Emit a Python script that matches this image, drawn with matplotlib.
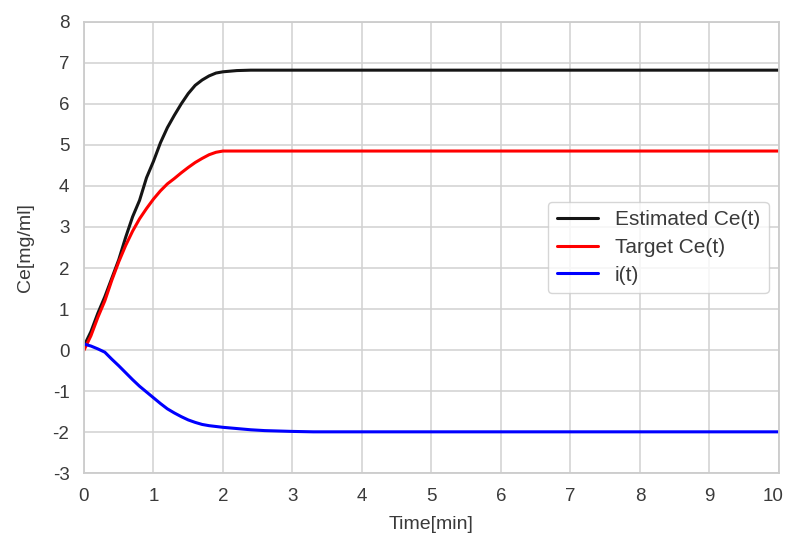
import matplotlib
matplotlib.use("Agg")
import matplotlib.pyplot as plt
import matplotlib.transforms as mtransforms
import seaborn as sns

t = [0, 0.1, 0.2, 0.3, 0.4, 0.5, 0.6, 0.7, 0.8, 0.9, 1.0, 1.1, 1.2, 1.3, 1.4,
     1.5, 1.6, 1.7, 1.8, 1.9, 2.0, 2.2, 2.4, 2.6, 2.8, 3.0, 3.3, 3.6, 4, 5, 6,
     7, 8, 9, 10]

estimated_ce = [0.1, 0.45, 0.9, 1.3, 1.75, 2.2, 2.75, 3.25, 3.65, 4.2, 4.6,
                5.05, 5.42, 5.72, 6.0, 6.25, 6.45, 6.58, 6.68, 6.75, 6.78,
                6.81, 6.82, 6.82, 6.82, 6.82, 6.82, 6.82, 6.82, 6.82, 6.82,
                6.82, 6.82, 6.82, 6.82]

target_ce = [0.0, 0.35, 0.8, 1.2, 1.7, 2.15, 2.55, 2.9, 3.2, 3.45, 3.68,
             3.88, 4.05, 4.18, 4.32, 4.45, 4.57, 4.67, 4.76, 4.82, 4.85,
             4.85, 4.85, 4.85, 4.85, 4.85, 4.85, 4.85, 4.85, 4.85, 4.85,
             4.85, 4.85, 4.85, 4.85]

i_t = [0.15, 0.1, 0.03, -0.05, -0.22, -0.38, -0.55, -0.72, -0.88, -1.02,
       -1.16, -1.3, -1.43, -1.53, -1.62, -1.7, -1.76, -1.81, -1.84, -1.86,
       -1.88, -1.91, -1.94, -1.96, -1.97, -1.98, -1.99, -1.99, -1.99, -1.99,
       -1.99, -1.99, -1.99, -1.99, -1.99]

sns.set_style("whitegrid")
plt.rcParams['font.family'] = ['Liberation Sans', 'DejaVu Sans']
plt.rcParams['axes.unicode_minus'] = False

fig = plt.figure(figsize=(7.87, 5.39), dpi=100)
ax = fig.add_axes([0.1067, 0.1219, 0.8831, 0.8378])

ax.plot(t, estimated_ce, color='#151515', lw=2.2, label='Estimated Ce(t)')
ax.plot(t, target_ce, color='#ff0000', lw=2.2, label='Target Ce(t)')
ax.plot(t, i_t, color='#0000ff', lw=2.2, label='i(t)')

ax.set_xlim(0, 10)
ax.set_ylim(-3, 8)
ax.set_xticks(range(0, 11))
ax.set_yticks(range(-3, 9))
ax.tick_params(labelsize=13.5, colors='#3a3a3a', pad=7)
ax.set_xlabel('Time[min]', fontsize=14, color='#3a3a3a', labelpad=8)
ax.set_ylabel('Ce[mg/ml]', fontsize=14, color='#3a3a3a', labelpad=13)
ax.grid(True, color='.82', lw=1.1)
for s in ax.spines.values():
    s.set_color('.8')
    s.set_linewidth(1.3)

# keep the last x tick label ("10") inside the figure, as in the reference
last = ax.get_xticklabels()[-1]
last.set_transform(last.get_transform() +
                   mtransforms.ScaledTranslation(-4 / 72, 0, fig.dpi_scale_trans))

ax.legend(loc='center right', fontsize=15, frameon=True, edgecolor='.8',
          framealpha=0.8, handlelength=2.0, labelspacing=0.42,
          labelcolor='#3a3a3a')

fig.savefig('out.png', dpi=100)
